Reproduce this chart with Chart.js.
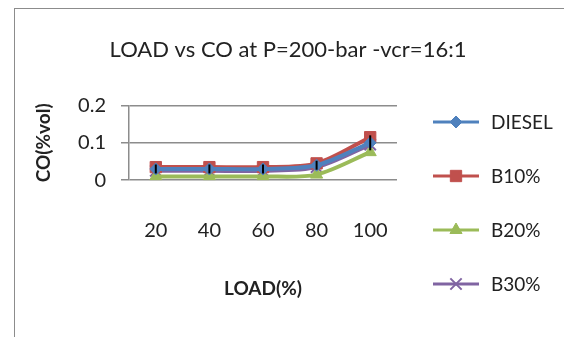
<!DOCTYPE html>
<html>
<head>
<meta charset="utf-8">
<script src="https://cdn.jsdelivr.net/npm/chart.js@4/dist/chart.umd.min.js"></script>
<style>
  html, body { margin: 0; padding: 0; background: #fff; }
  #wrap { position: relative; width: 564px; height: 337px; }
  #frame { position: absolute; left: 14px; top: 8px; right: -2px; bottom: -2px;
           border: 1px solid #8c8c8c; pointer-events: none; }
</style>
</head>
<body>
<div id="wrap">
  <canvas id="myChart" width="564" height="337"></canvas>
  <div id="frame"></div>
</div>
<script>
// values
const loads = ['20', '40', '60', '80', '100'];
const diesel = [0.03, 0.03, 0.03, 0.04, 0.10];
const b10 = [0.035, 0.035, 0.035, 0.045, 0.115];
const b20 = [0.01, 0.01, 0.01, 0.015, 0.075];
const b30 = [0.025, 0.025, 0.025, 0.035, 0.095];
// small black error bars drawn on the DIESEL series
const dieselErr = [0.012, 0.012, 0.012, 0.012, 0.02];

const FONT = 'Lato, "Open Sans", sans-serif';

// error bars, drawn through the chart's own scales
const errorBars = {
    id: 'errorBars',
    afterDatasetsDraw(chart) {
        const { ctx, scales: { x, y } } = chart;
        ctx.save();
        ctx.strokeStyle = '#000';
        ctx.lineWidth = 2;
        diesel.forEach((v, i) => {
            const px = x.getPixelForValue(i);
            ctx.beginPath();
            ctx.moveTo(px, y.getPixelForValue(v + dieselErr[i]));
            ctx.lineTo(px, y.getPixelForValue(v - dieselErr[i]));
            ctx.stroke();
        });
        ctx.restore();
    }
};

// excel-like legend: line segment with marker in the middle
const sideLegend = {
    id: 'sideLegend',
    afterDraw(chart) {
        const ctx = chart.ctx;
        const left = 433, lineLen = 46, top = 122, gap = 54;
        ctx.save();
        chart.data.datasets.forEach((ds, i) => {
            const yy = top + i * gap;
            ctx.strokeStyle = ds.borderColor;
            ctx.lineWidth = 3;
            ctx.beginPath();
            ctx.moveTo(left, yy);
            ctx.lineTo(left + lineLen, yy);
            ctx.stroke();
            ctx.fillStyle = ds.pointBackgroundColor;
            ctx.strokeStyle = ds.pointBorderColor;
            ctx.lineWidth = ds.pointBorderWidth;
            Chart.helpers.drawPoint(ctx, {
                pointStyle: ds.pointStyle,
                radius: ds.pointRadius,
                rotation: ds.pointRotation || 0,
                borderWidth: ds.pointBorderWidth
            }, left + lineLen / 2, yy);
            ctx.fillStyle = '#222';
            ctx.font = '19px ' + FONT;
            ctx.textBaseline = 'middle';
            ctx.fillText(ds.label, left + lineLen + 12, yy + 1);
        });
        ctx.restore();
    }
};

const ctx = document.getElementById('myChart').getContext('2d');
const myChart = new Chart(ctx, {
    type: 'line',
    data: {
        labels: loads,
        datasets: [{
            label: 'DIESEL',
            data: diesel,
            borderColor: '#4F81BD',
            pointBackgroundColor: '#4F81BD',
            pointBorderColor: '#4F81BD',
            pointStyle: 'rectRot',
            pointRadius: 6,
            pointBorderWidth: 1,
            borderWidth: 4,
            tension: 0.3
        }, {
            label: 'B10%',
            data: b10,
            borderColor: '#C0504D',
            pointBackgroundColor: '#C0504D',
            pointBorderColor: '#C0504D',
            pointStyle: 'rect',
            pointRadius: 8,
            pointBorderWidth: 1,
            borderWidth: 4,
            tension: 0.3
        }, {
            label: 'B20%',
            data: b20,
            borderColor: '#9BBB59',
            pointBackgroundColor: '#9BBB59',
            pointBorderColor: '#9BBB59',
            pointStyle: 'triangle',
            pointRadius: 7,
            pointBorderWidth: 1,
            borderWidth: 4,
            tension: 0.3
        }, {
            label: 'B30%',
            data: b30,
            borderColor: '#8064A2',
            pointBackgroundColor: '#8064A2',
            pointBorderColor: '#8064A2',
            pointStyle: 'crossRot',
            pointRadius: 8,
            pointBorderWidth: 2,
            borderWidth: 4,
            tension: 0.3
        }]
    },
    options: {
        responsive: false,
        animation: false,
        layout: { padding: { left: 12, right: 0, top: 0, bottom: 37 } },
        plugins: {
            legend: { display: false },
            tooltip: { enabled: false },
            title: {
                display: true,
                text: 'LOAD vs CO at P=200-bar -vcr=16:1',
                color: '#222',
                font: { family: FONT, size: 22, weight: 'normal' },
                padding: { top: 37, bottom: 42 }
            }
        },
        scales: {
            x: {
                offset: true,
                grid: { display: false, drawTicks: false },
                border: { display: false },
                ticks: { color: '#222', font: { family: FONT, size: 20 }, padding: 38 },
                title: {
                    display: true, text: 'LOAD(%)', color: '#222',
                    font: { family: FONT, size: 19, weight: 'bold' },
                    padding: { top: -3, bottom: 0 }
                }
            },
            y: {
                min: 0, max: 0.2,
                ticks: { stepSize: 0.1, color: '#222', font: { family: FONT, size: 20 }, padding: 15 },
                grid: { color: '#8c8c8c', lineWidth: 1.5, tickLength: 8 },
                border: { display: true, color: '#8c8c8c', width: 1.5 },
                title: {
                    display: true, text: 'CO(%vol)', color: '#222',
                    font: { family: FONT, size: 19, weight: 'bold' },
                    padding: { top: 20, bottom: 0 }
                },
                afterFit(scale) { scale.width = 117; }
            },
            // empty right axis that keeps room for the legend
            yRight: {
                position: 'right',
                display: true,
                grid: { display: false, drawTicks: false },
                border: { display: false },
                ticks: { display: false },
                afterFit(scale) { scale.width = 167; }
            }
        }
    },
    plugins: [errorBars, sideLegend]
});
</script>
</body>
</html>
